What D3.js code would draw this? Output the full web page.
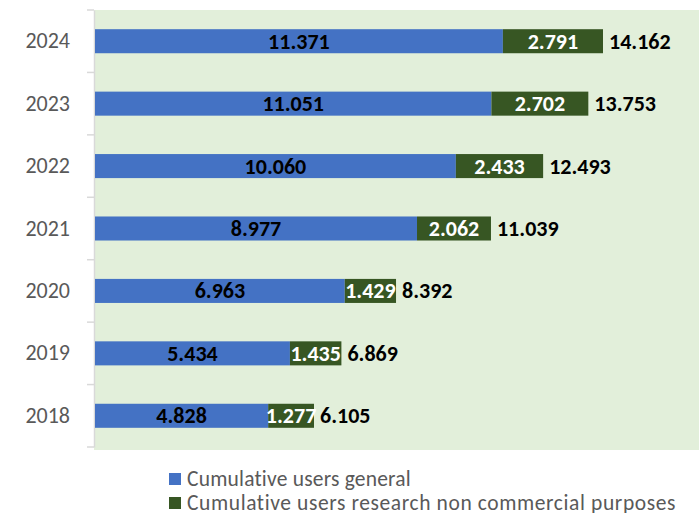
<!DOCTYPE html>
<html>
<head>
<meta charset="utf-8">
<script src="https://cdn.jsdelivr.net/npm/d3@7"></script>
<style>
  body { margin: 0; background: #fff; }
  svg { display: block; font-family: Carlito, Calibri, "Open Sans", sans-serif; }
</style>
</head>
<body>
<div id="chart"></div>
<script>
// Data
var years = ["2024", "2023", "2022", "2021", "2020", "2019", "2018"];
var usersGeneral = [11371, 11051, 10060, 8977, 6963, 5434, 4828];
var usersResearch = [2791, 2702, 2433, 2062, 1429, 1435, 1277];
var totals = [14162, 13753, 12493, 11039, 8392, 6869, 6105];
var seriesNames = ["Cumulative users general", "Cumulative users research non commercial purposes"];
var seriesColors = ["#4472C4", "#375623"];

var W = 699, H = 513;
var plotLeft = 94, plotTop = 10, plotBottom = 447;

var svg = d3.select("#chart").append("svg")
  .attr("width", W).attr("height", H);

// plot background
svg.append("rect")
  .attr("x", plotLeft).attr("y", plotTop)
  .attr("width", W - plotLeft).attr("height", plotBottom - plotTop + 3)
  .attr("fill", "#E2EFDA");

var fmt = function (v) { return d3.format(",")(v).replace(/,/g, "."); };

var x = d3.scaleLinear().domain([0, 14162]).range([plotLeft + 1, 603]);
var y = d3.scaleBand().domain(years).range([plotTop, plotBottom]).paddingInner(0.615).paddingOuter(0.3075);
var yTick = d3.scaleBand().domain(years).range([plotTop, plotBottom]);

// Y axis
var yAxis = svg.append("g")
  .attr("transform", "translate(" + plotLeft + ",0)")
  .call(d3.axisLeft(y).tickSize(0).tickPadding(24));
yAxis.select(".domain").attr("stroke", "#D9D9D9").attr("stroke-width", 1.5);
yAxis.selectAll("text").attr("fill", "#595959").style("font-size", "22px")
  .style("font-family", "Carlito, Calibri, 'Open Sans', sans-serif");

// band boundary ticks
var tickVals = years.map(function (d) { return yTick(d); }).concat([plotBottom]);
svg.append("g").selectAll("line").data(tickVals).enter().append("line")
  .attr("x1", plotLeft - 7).attr("x2", plotLeft)
  .attr("y1", function (d) { return d; }).attr("y2", function (d) { return d; })
  .attr("stroke", "#D9D9D9").attr("stroke-width", 1.5);

var rows = years.map(function (yr, i) {
  return { year: yr, a: usersGeneral[i], b: usersResearch[i], t: totals[i] };
});

var g = svg.append("g");

// blue segment
g.selectAll(".barA").data(rows).enter().append("rect")
  .attr("class", "barA")
  .attr("x", x(0))
  .attr("y", function (d) { return y(d.year); })
  .attr("width", function (d) { return x(d.a) - x(0); })
  .attr("height", y.bandwidth())
  .attr("fill", seriesColors[0]);

// green segment
g.selectAll(".barB").data(rows).enter().append("rect")
  .attr("class", "barB")
  .attr("x", function (d) { return x(d.a); })
  .attr("y", function (d) { return y(d.year); })
  .attr("width", function (d) { return x(d.a + d.b) - x(d.a); })
  .attr("height", y.bandwidth())
  .attr("fill", seriesColors[1]);

// labels
g.selectAll(".labA").data(rows).enter().append("text")
  .attr("x", function (d) { return (x(0) + x(d.a)) / 2; })
  .attr("y", function (d) { return y(d.year) + y.bandwidth() / 2; })
  .attr("dy", "0.34em")
  .attr("text-anchor", "middle")
  .attr("fill", "#000")
  .style("font-size", "22px").style("font-weight", "bold")
  .text(function (d) { return fmt(d.a); });

g.selectAll(".labB").data(rows).enter().append("text")
  .attr("x", function (d) { return (x(d.a) + x(d.a + d.b)) / 2; })
  .attr("y", function (d) { return y(d.year) + y.bandwidth() / 2; })
  .attr("dy", "0.34em")
  .attr("text-anchor", "middle")
  .attr("fill", "#fff")
  .style("font-size", "22px").style("font-weight", "bold")
  .text(function (d) { return fmt(d.b); });

g.selectAll(".labT").data(rows).enter().append("text")
  .attr("x", function (d) { return x(d.t) + 6; })
  .attr("y", function (d) { return y(d.year) + y.bandwidth() / 2; })
  .attr("dy", "0.34em")
  .attr("text-anchor", "start")
  .attr("fill", "#000")
  .style("font-size", "22px").style("font-weight", "bold")
  .text(function (d) { return fmt(d.t); });

// legend
var legend = svg.selectAll(".legend").data(seriesNames).enter().append("g")
  .attr("class", "legend")
  .attr("transform", function (d, i) { return "translate(169," + (479 + i * 24) + ")"; });
legend.append("rect")
  .attr("x", 0).attr("y", -6).attr("width", 12).attr("height", 12)
  .attr("fill", function (d, i) { return seriesColors[i]; });
legend.append("text")
  .attr("x", 18).attr("dy", "0.33em")
  .attr("fill", "#595959")
  .style("font-size", "21.5px")
  .style("letter-spacing", function (d, i) { return i === 1 ? "0.6px" : "0.2px"; })
  .text(function (d) { return d; });
</script>
</body>
</html>
